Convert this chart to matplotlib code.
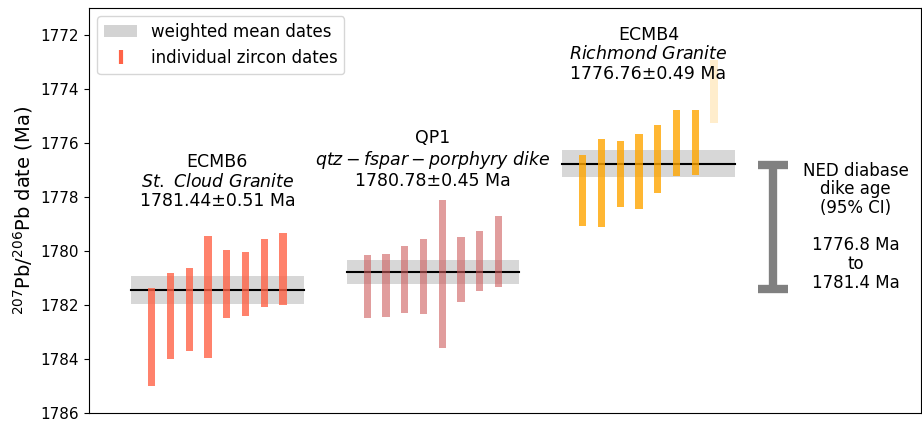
import matplotlib
matplotlib.use("Agg")
import matplotlib.pyplot as plt
from matplotlib.lines import Line2D
from matplotlib.patches import Patch
import numpy as np

# individual zircon dates, stored as (young end, old end) of each 2-sigma bar
ecmb6_lo = [1781.38, 1780.81, 1780.63, 1779.44, 1779.97, 1780.02, 1779.56, 1779.32]
ecmb6_hi = [1784.99, 1783.99, 1783.70, 1783.96, 1782.49, 1782.42, 1782.09, 1782.01]
qp1_lo = [1780.16, 1780.10, 1779.81, 1779.57, 1778.12, 1779.48, 1779.26, 1778.70]
qp1_hi = [1782.49, 1782.43, 1782.30, 1782.34, 1783.58, 1781.89, 1781.49, 1781.34]
ecmb4_lo = [1776.46, 1775.86, 1775.91, 1775.67, 1775.35, 1774.79, 1774.79, 1772.93]
ecmb4_hi = [1779.06, 1779.10, 1778.36, 1778.46, 1777.84, 1777.23, 1777.17, 1775.27]
ecmb4_used = [True, True, True, True, True, True, True, False]

samples = ["ECMB6", "QP1", "ECMB4"]
units = [r"$St.\ Cloud\ Granite$", r"$qtz-fspar-porphyry\ dike$", r"$Richmond\ Granite$"]
means = [1781.44, 1780.78, 1776.76]
errs = [0.51, 0.45, 0.49]
label_y = [1778.48, 1777.75, 1773.77]

ned_young = 1776.8
ned_old = 1781.4

group_start = [3.35, 14.85, 26.35]
colors = ["tomato", "indianred", "orange"]
alphas = [0.8, 0.6, 0.8]

fig = plt.figure(figsize=(9.22, 4.21), dpi=100)
ax = fig.add_axes([0.0965, 0.019, 0.9025, 0.962])

groups = [(ecmb6_lo, ecmb6_hi, None), (qp1_lo, qp1_hi, None), (ecmb4_lo, ecmb4_hi, ecmb4_used)]
for i, (lo, hi, used) in enumerate(groups):
    xs = group_start[i] + np.arange(len(lo))
    cx = xs.mean()
    # weighted mean band + line
    ax.fill_between([cx - 4.6, cx + 4.6], means[i] - errs[i], means[i] + errs[i],
                    color="lightgrey", alpha=0.9, lw=0, zorder=1)
    ax.plot([cx - 4.6, cx + 4.6], [means[i], means[i]], color="black", lw=1.5, zorder=2)
    for j, x in enumerate(xs):
        a = alphas[i] if (used is None or used[j]) else 0.2
        ax.bar(x, hi[j] - lo[j], bottom=lo[j], width=0.38, color=colors[i], alpha=a, zorder=3)
    ax.text(cx, label_y[i], f"{samples[i]}\n{units[i]}\n{means[i]:.2f}\u00b1{errs[i]:.2f} Ma",
            ha="center", va="bottom", fontsize=12.5, linespacing=1.1)

# NED diabase dike age range
ned_x = 36.5
ax.errorbar(ned_x, (ned_young + ned_old) / 2, yerr=(ned_old - ned_young) / 2, fmt="none",
            ecolor="grey", elinewidth=6, capsize=11, capthick=6)
ax.text(40.9, (ned_young + ned_old) / 2,
        f"NED diabase\ndike age\n(95% CI)\n\n{ned_young} Ma\nto\n{ned_old} Ma",
        ha="center", va="center", fontsize=12, linespacing=1.05)

ax.set_xlim(0, 44.4)
ax.set_ylim(1786, 1771)
ax.set_yticks(np.arange(1772, 1787, 2))
ax.set_xticks([])
ax.tick_params(axis="y", labelsize=11)
ax.set_ylabel(r"$^{207}$Pb/$^{206}$Pb date (Ma)", fontsize=14)

handles = [Patch(facecolor="lightgrey", edgecolor="none"),
           Line2D([], [], color="tomato", marker="|", linestyle="none", markersize=10,
                  markeredgewidth=3, markeredgecolor="tomato")]
ax.legend(handles, ["weighted mean dates", "individual zircon dates"], loc="upper left",
          fontsize=12, handlelength=2.0)

fig.savefig("out.png", dpi=100)
